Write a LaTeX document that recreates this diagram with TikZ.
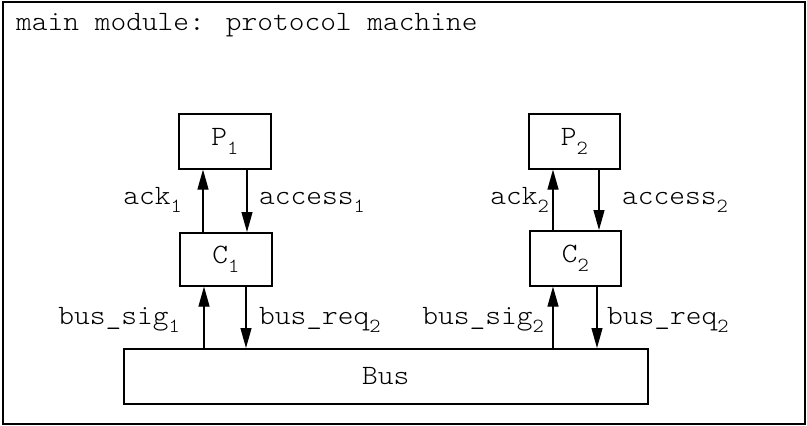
\documentclass[tikz,border=0pt]{standalone}
\usepackage{fontspec}
% thin slab-serif typewriter face, widened a little to a 0.56em advance
\setmainfont{lmmonolt10-regular.otf}[FakeStretch=1.07]
\usetikzlibrary{arrows.meta}
% lowered, smaller index digit
\newcommand\idx[1]{\raisebox{-0.3em}{\fontsize{20}{20}\selectfont #1}}

\begin{document}
\begin{tikzpicture}[x=1pt,y=-1pt,
  txt/.style={font=\fontsize{28}{32}\selectfont},
  box/.style={txt,draw,line width=1.6pt,inner sep=0pt,anchor=north west},
  sig/.style={line width=1.2pt,-{Triangle[length=20pt,width=11pt]}},
  lbl/.style={txt,inner sep=0pt}]
\useasboundingbox (0,0) rectangle (807,426);

% outer module frame and its title
\draw[line width=1.4pt] (3,2) rectangle (805,424);
\node[lbl,anchor=base west] (title) at (16,30) {main module: protocol machine};

% processes, controllers and the bus
\node[box,minimum width=92pt,minimum height=55pt] (P1) at (178,113) {P\idx{1}};
\node[box,minimum width=92pt,minimum height=53pt] (C1) at (179,232) {C\idx{1}};
\node[box,minimum width=91pt,minimum height=55pt] (P2) at (528,113) {P\idx{2}};
\node[box,minimum width=91pt,minimum height=55pt] (C2) at (529,230) {C\idx{2}};
\node[box,minimum width=524pt,minimum height=55pt] (Bus) at (123,348) {Bus};

% left pair of signals
\draw[sig] ([xshift=24pt]C1.north west) -- ([xshift=24pt]C1.north west |- P1.south);
\draw[sig] ([xshift=69pt]P1.south west) -- ([xshift=69pt]P1.south west |- C1.north);
\draw[sig] ([xshift=25pt]C1.south west |- Bus.north) -- ([xshift=25pt]C1.south west);
\draw[sig] ([xshift=67pt]C1.south west) -- ([xshift=67pt]C1.south west |- Bus.north);

% right pair of signals
\draw[sig] ([xshift=24pt]C2.north west) -- ([xshift=24pt]C2.north west |- P2.south);
\draw[sig] ([xshift=71pt]P2.south west) -- ([xshift=71pt]P2.south west |- C2.north);
\draw[sig] ([xshift=24pt]C2.south west |- Bus.north) -- ([xshift=24pt]C2.south west);
\draw[sig] ([xshift=68pt]C2.south west) -- ([xshift=68pt]C2.south west |- Bus.north);

% signal names
\node[lbl,anchor=base east] (ack1) at (182,204) {ack\idx{1}};
\node[lbl,anchor=base west] (acc1) at (259,204) {access\idx{1}};
\node[lbl,anchor=base east] (sig1) at (180,324) {bus\_sig\idx{1}};
\node[lbl,anchor=base west] (req1) at (259,324) {bus\_req\idx{2}};
\node[lbl,anchor=base east] (ack2) at (549,204) {ack\idx{2}};
\node[lbl,anchor=base west] (acc2) at (622,204) {access\idx{2}};
\node[lbl,anchor=base east] (sig2) at (544,324) {bus\_sig\idx{2}};
\node[lbl,anchor=base west] (req2) at (607,324) {bus\_req\idx{2}};
\end{tikzpicture}
\end{document}
